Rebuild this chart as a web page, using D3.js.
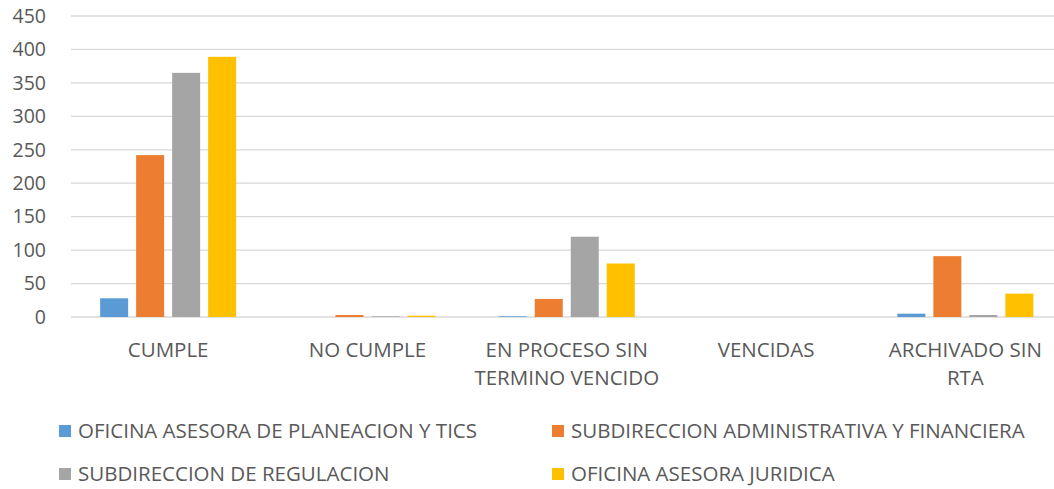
<!DOCTYPE html>
<html>
<head>
<meta charset="utf-8">
<script src="https://cdn.jsdelivr.net/npm/d3@7"></script>
<style>
  body { margin: 0; background: #fff; overflow: hidden; }
  text { font-family: "Open Sans", "Noto Sans", sans-serif; fill: #595959; }
</style>
</head>
<body>
<div id="chart"></div>
<script>
const categories = [['CUMPLE'], ['NO CUMPLE'], ['EN PROCESO SIN', 'TERMINO VENCIDO'], ['VENCIDAS'], ['ARCHIVADO SIN', 'RTA']];
const seriesNames = [
    'OFICINA ASESORA DE PLANEACION Y TICS',
    'SUBDIRECCION ADMINISTRATIVA Y FINANCIERA',
    'SUBDIRECCION DE REGULACION',
    'OFICINA ASESORA JURIDICA'
];
const planeacion = [28, 0, 1, 0, 5];
const administrativa = [242, 3, 27, 0, 91];
const regulacion = [365, 1, 120, 0, 3];
const juridica = [389, 2, 80, 0, 35];
const colors = ['#5b9bd5', '#ed7d31', '#a5a5a5', '#ffc000'];
const yTicks = [0, 50, 100, 150, 200, 250, 300, 350, 400, 450];

const width = 1054;
const height = 489;
const values = [planeacion, administrativa, regulacion, juridica];

const svg = d3.select('#chart')
    .append('svg')
    .attr('width', width)
    .attr('height', height);

// plot area runs past the right edge of the picture (cropped)
const area = { left: 68.5, right: 1065, top: 16, bottom: 317 };

const xScale = d3.scaleBand()
    .domain(d3.range(categories.length))
    .range([area.left, area.right]);

const inner = d3.scaleBand()
    .domain(d3.range(seriesNames.length))
    .range([0, 136])
    .paddingInner(0.222);

const yScale = d3.scaleLinear()
    .domain([0, 450])
    .range([area.bottom, area.top]);

// gridlines
svg.append('g')
    .selectAll('line')
    .data(yTicks)
    .join('line')
    .attr('x1', 71)
    .attr('x2', area.right)
    .attr('y1', d => yScale(d))
    .attr('y2', d => yScale(d))
    .attr('stroke', '#d9d9d9')
    .attr('stroke-width', 1.3);

// y tick labels
svg.append('g')
    .selectAll('text')
    .data(yTicks)
    .join('text')
    .attr('x', 46)
    .attr('y', d => yScale(d))
    .attr('dy', '0.35em')
    .attr('text-anchor', 'end')
    .style('font-size', '19.5px')
    .text(d => d);

// bars
const groups = svg.append('g')
    .selectAll('g')
    .data(categories)
    .join('g')
    .attr('transform', (d, i) => `translate(${xScale(i) + xScale.bandwidth() / 2 - 68},0)`);

groups.selectAll('rect')
    .data((d, i) => values.map((s, j) => ({ s: j, v: s[i] })))
    .join('rect')
    .attr('x', d => inner(d.s))
    .attr('width', inner.bandwidth())
    .attr('y', d => yScale(d.v))
    .attr('height', d => yScale(0) - yScale(d.v))
    .attr('fill', d => colors[d.s]);

// x labels
svg.append('g')
    .selectAll('text')
    .data(categories)
    .join('text')
    .attr('text-anchor', 'middle')
    .attr('transform', (d, i) => `translate(${xScale(i) + xScale.bandwidth() / 2},357)`)
    .style('font-size', '20.5px')
    .selectAll('tspan')
    .data(d => d)
    .join('tspan')
    .attr('x', 0)
    .attr('dy', (d, i) => i === 0 ? 0 : 28)
    .text(d => d);

// legend
const legendPos = [[59, 431], [552, 431], [59, 474], [552, 474]];
const legend = svg.append('g')
    .selectAll('g')
    .data(seriesNames)
    .join('g')
    .attr('transform', (d, i) => `translate(${legendPos[i][0]},${legendPos[i][1]})`);

legend.append('rect')
    .attr('x', 0)
    .attr('y', -6)
    .attr('width', 12)
    .attr('height', 12)
    .attr('fill', (d, i) => colors[i]);

legend.append('text')
    .attr('x', 19)
    .attr('dy', '0.35em')
    .style('font-size', '20.5px')
    .text(d => d);
</script>
</body>
</html>
